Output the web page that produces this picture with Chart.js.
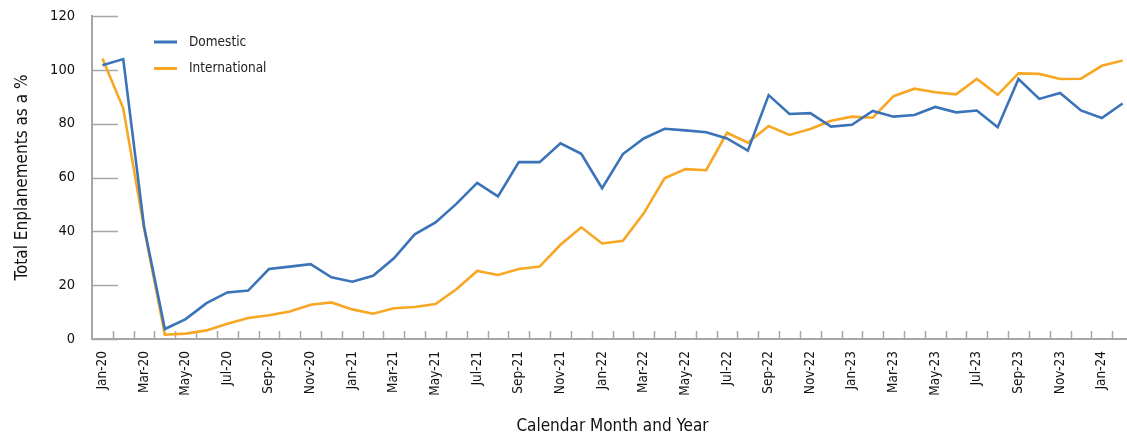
<!DOCTYPE html>
<html>
<head>
<meta charset="utf-8">
<script src="https://cdn.jsdelivr.net/npm/chart.js@4/dist/chart.umd.min.js"></script>
<style>
    html, body { margin: 0; padding: 0; background: #fff; overflow: hidden; }
    #wrap { width: 1133px; height: 439px; }
</style>
</head>
<body>
<div id="wrap"><canvas id="enplanements" width="1133" height="439"></canvas></div>
<script>
const months = [
    'Jan-20', 'Feb-20', 'Mar-20', 'Apr-20', 'May-20', 'Jun-20', 'Jul-20', 'Aug-20', 'Sep-20', 'Oct-20', 'Nov-20', 'Dec-20',
    'Jan-21', 'Feb-21', 'Mar-21', 'Apr-21', 'May-21', 'Jun-21', 'Jul-21', 'Aug-21', 'Sep-21', 'Oct-21', 'Nov-21', 'Dec-21',
    'Jan-22', 'Feb-22', 'Mar-22', 'Apr-22', 'May-22', 'Jun-22', 'Jul-22', 'Aug-22', 'Sep-22', 'Oct-22', 'Nov-22', 'Dec-22',
    'Jan-23', 'Feb-23', 'Mar-23', 'Apr-23', 'May-23', 'Jun-23', 'Jul-23', 'Aug-23', 'Sep-23', 'Oct-23', 'Nov-23', 'Dec-23',
    'Jan-24', 'Feb-24'
];

const domestic = [
    101.7, 104.0, 41.8, 3.7, 7.4, 13.3, 17.3, 18.0, 26.0, 26.9, 27.8, 22.9,
    21.3, 23.5, 30.0, 38.9, 43.3, 50.2, 58.0, 53.0, 65.7, 65.7, 72.7, 68.8,
    56.0, 68.7, 74.5, 78.1, 77.5, 76.8, 74.5, 70.0, 90.6, 83.6, 83.9, 78.9,
    79.6, 84.7, 82.6, 83.2, 86.2, 84.2, 84.9, 78.7, 96.6, 89.2, 91.4, 84.9,
    82.1, 87.5
];

const international = [
    104.2, 85.7, 41.2, 1.6, 2.0, 3.2, 5.7, 7.8, 8.8, 10.2, 12.7, 13.6,
    11.0, 9.4, 11.4, 11.9, 13.0, 18.5, 25.3, 23.8, 26.0, 26.9, 35.0, 41.5,
    35.5, 36.5, 46.7, 59.7, 63.1, 62.7, 76.6, 72.9, 79.1, 75.8, 78.0, 81.1,
    82.6, 82.2, 90.2, 93.0, 91.7, 90.9, 96.6, 90.7, 98.7, 98.5, 96.6, 96.7,
    101.5, 103.5
];

const yTicks = [0, 20, 40, 60, 80, 100, 120];

const FONT = '"Liberation Sans Narrow", "DejaVu Sans Condensed", sans-serif';
const AXIS_GREY = '#a6a6a6';

// short tick marks pointing into the plot, like the original
const innerTicks = {
    id: 'innerTicks',
    beforeDatasetsDraw(chart) {
        const { ctx, chartArea, scales } = chart;
        const x = scales.x, y = scales.y;
        ctx.save();
        ctx.strokeStyle = AXIS_GREY;
        ctx.lineWidth = 1.5;
        ctx.beginPath();
        yTicks.forEach(v => {
            const py = Math.round(y.getPixelForValue(v)) + 0.5;
            ctx.moveTo(chartArea.left, py);
            ctx.lineTo(chartArea.left + 26, py);
        });
        const step = x.width / months.length;
        for (let i = 1; i <= months.length; i++) {
            const px = Math.round(x.getPixelForValue(i) - step / 2) + 0.5;
            ctx.moveTo(px, chartArea.bottom);
            ctx.lineTo(px, chartArea.bottom - 8);
        }
        ctx.stroke();
        ctx.restore();
    }
};

// legend stacked inside the plot, top left
const insideLegend = {
    id: 'insideLegend',
    afterDraw(chart) {
        const { ctx, chartArea } = chart;
        const x0 = chartArea.left + 62;
        let y0 = chartArea.top + 26;
        ctx.save();
        ctx.font = '13.5px ' + FONT;
        ctx.textBaseline = 'middle';
        ctx.fillStyle = '#222';
        chart.data.datasets.forEach(ds => {
            ctx.strokeStyle = ds.borderColor;
            ctx.lineWidth = 3;
            ctx.beginPath();
            ctx.moveTo(x0, y0);
            ctx.lineTo(x0 + 23, y0);
            ctx.stroke();
            ctx.fillText(ds.label, x0 + 35, y0);
            y0 += 26.5;
        });
        ctx.restore();
    }
};

new Chart(document.getElementById('enplanements'), {
    type: 'line',
    data: {
        labels: months,
        datasets: [
            {
                label: 'Domestic',
                data: domestic,
                borderColor: '#3b73b9',
                borderWidth: 2.6,
                pointRadius: 0,
                tension: 0
            },
            {
                label: 'International',
                data: international,
                borderColor: '#f7a723',
                borderWidth: 2.6,
                pointRadius: 0,
                tension: 0
            }
        ]
    },
    options: {
        responsive: false,
        animation: false,
        devicePixelRatio: 1,
        layout: { padding: { top: 16, left: 0, right: 0, bottom: 0 } },
        plugins: {
            legend: { display: false },
            tooltip: { enabled: false }
        },
        scales: {
            x: {
                offset: true,
                grid: { display: false, offset: true },
                border: { display: true, color: AXIS_GREY, width: 2 },
                ticks: {
                    autoSkip: false,
                    minRotation: 90,
                    maxRotation: 90,
                    padding: 4,
                    color: '#111',
                    font: { family: FONT, size: 13.5 },
                    callback: function (value, index) {
                        return index % 2 === 0 ? this.getLabelForValue(value) : '';
                    }
                },
                title: {
                    display: true,
                    text: 'Calendar Month and Year',
                    color: '#111',
                    font: { family: FONT, size: 17 },
                    padding: { top: 0, bottom: 2 }
                },
                afterFit(scale) {
                    scale.height = 100;
                    scale.paddingLeft = 0;
                    scale.paddingRight = 0;
                }
            },
            y: {
                min: 0,
                max: 120,
                grid: { display: false },
                border: { display: true, color: AXIS_GREY, width: 2 },
                afterBuildTicks(scale) {
                    scale.ticks = yTicks.map(v => ({ value: v }));
                },
                ticks: {
                    padding: 9,
                    color: '#111',
                    font: { family: FONT, size: 14.5 }
                },
                title: {
                    display: true,
                    text: 'Total Enplanements as a %',
                    color: '#111',
                    font: { family: FONT, size: 17 },
                    padding: { top: 12, bottom: 0 }
                },
                afterFit(scale) {
                    scale.width = 92;
                    scale.paddingTop = 0;
                    scale.paddingBottom = 0;
                }
            }
        }
    },
    plugins: [innerTicks, insideLegend]
});
</script>
</body>
</html>
